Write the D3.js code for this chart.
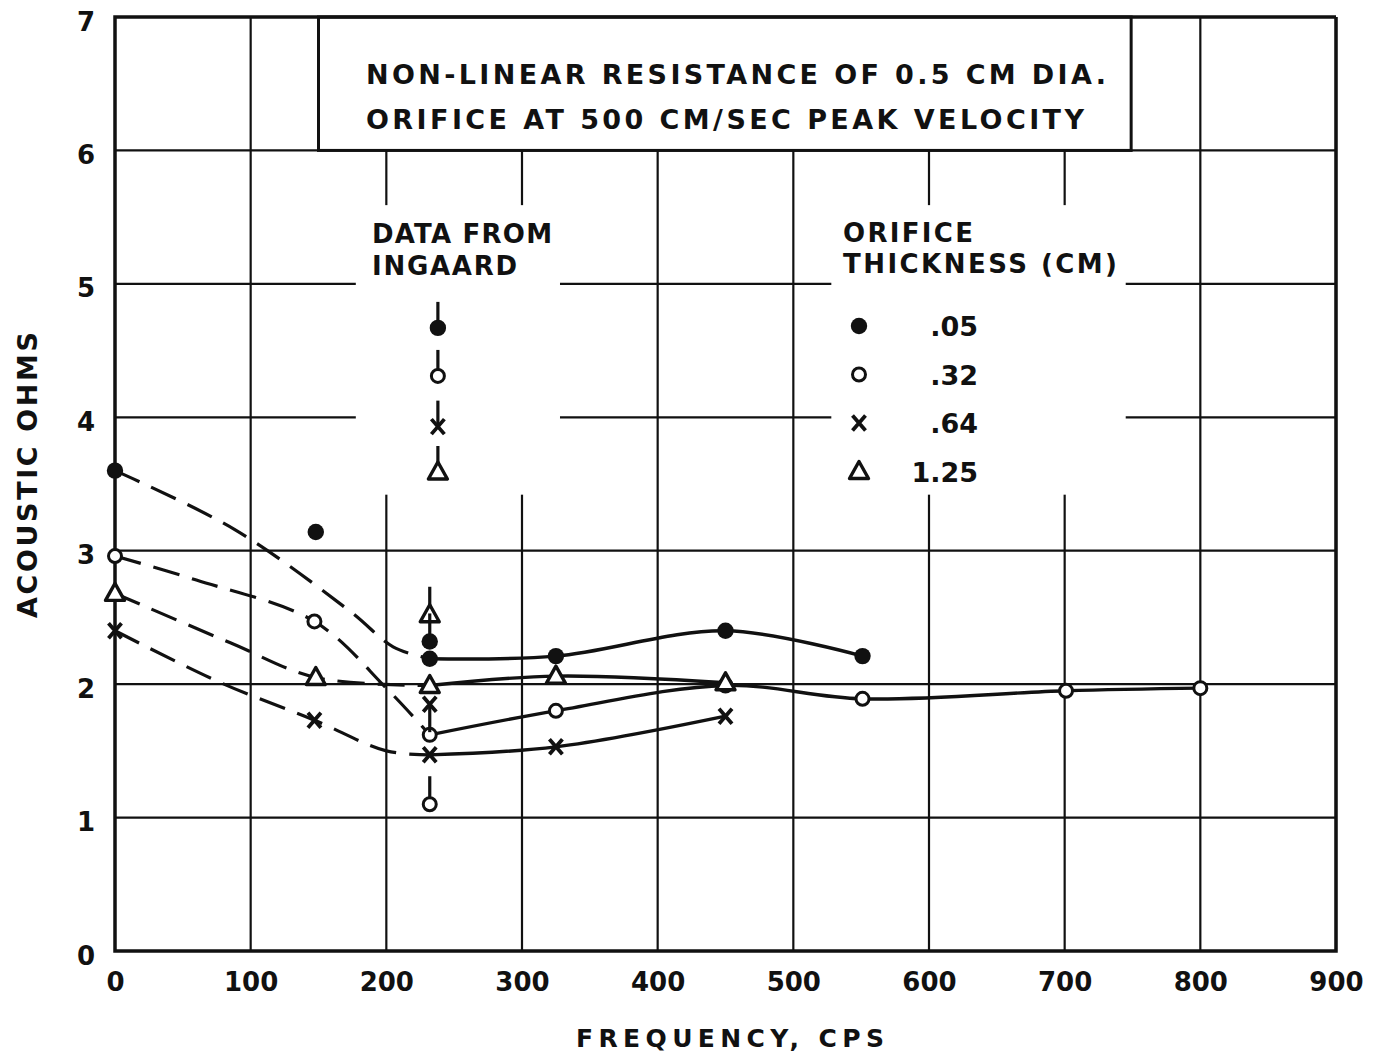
<!DOCTYPE html>
<html>
<head>
<meta charset="utf-8">
<script src="https://cdn.jsdelivr.net/npm/d3@7"></script>
<style>
  body { margin: 0; background: #fff; }
  text { font-family: "DejaVu Sans", sans-serif; font-weight: bold; fill: #111; }
</style>
</head>
<body>
<div id="chart"></div>
<script>
// tick values of the two axes
var xTicks = [0, 100, 200, 300, 400, 500, 600, 700, 800, 900];
var yTicks = [0, 1, 2, 3, 4, 5, 6, 7];

// legend: orifice thickness (cm), one symbol per series
var seriesKeys = ["filled", "open", "cross", "triangle"];
var thicknessLabels = [".05", ".32", ".64", "1.25"];

// measured points (frequency cps, acoustic ohms)
var filledPoints = [[0, 3.6], [148, 3.14], [232, 2.19], [325, 2.21], [450, 2.40], [551, 2.21]];
var openPoints = [[0, 2.96], [147, 2.47], [232, 1.62], [325, 1.80], [450, 1.99], [551, 1.89], [701, 1.95], [800, 1.97]];
var crossPoints = [[0, 2.40], [147, 1.73], [232, 1.47], [325, 1.53], [450, 1.76]];
var trianglePoints = [[0, 2.68], [148, 2.05], [232, 1.99], [325, 2.06], [450, 2.01]];

// hand drawn curves: dashed below ~230 cps, solid above
var filledDashed = [[0, 3.6], [88, 3.16], [174, 2.54], [205, 2.28], [232, 2.19]];
var filledSolid = [[232, 2.19], [325, 2.21], [450, 2.40], [551, 2.21]];
var openDashed = [[0, 2.96], [60, 2.78], [147, 2.47], [200, 1.97], [232, 1.62]];
var openSolid = [[232, 1.62], [325, 1.80], [450, 1.99], [551, 1.89], [701, 1.95], [800, 1.97]];
var crossDashed = [[0, 2.40], [78, 2.01], [147, 1.73], [200, 1.50], [232, 1.47]];
var crossSolid = [[232, 1.47], [325, 1.53], [450, 1.76]];
var triangleDashed = [[0, 2.68], [85, 2.31], [148, 2.05], [232, 1.99]];
var triangleSolid = [[232, 1.99], [325, 2.06], [450, 2.01]];

// points with a tick mark (dir -1 = tick above, 1 = tick below)
var barredKeys = ["triangle", "filled", "cross", "open"];
var barredX = [232, 232, 232, 232];
var barredY = [2.52, 2.32, 1.85, 1.10];
var barredDir = [-1, -1, 1, -1];

// "data from Ingaard"
var ingaardX = 238;
var ingaardValues = [4.67, 4.31, 3.93, 3.59]; // filled, open, cross, triangle

var W = 1374, H = 1061;
var x = d3.scaleLinear().domain([0, 900]).range([115, 1336]);
var y = d3.scaleLinear().domain([0, 7]).range([951, 17]);

var svg = d3.select("#chart").append("svg")
    .attr("width", W)
    .attr("height", H);

// grid
svg.append("g").selectAll("line.v")
    .data(xTicks.slice(1))
    .enter().append("line")
    .attr("x1", function (d) { return x(d); })
    .attr("x2", function (d) { return x(d); })
    .attr("y1", y(0)).attr("y2", y(7))
    .attr("stroke", "#111").attr("stroke-width", 2.2);

svg.append("g").selectAll("line.h")
    .data(yTicks.slice(1, 7))
    .enter().append("line")
    .attr("x1", x(0)).attr("x2", x(900))
    .attr("y1", function (d) { return y(d); })
    .attr("y2", function (d) { return y(d); })
    .attr("stroke", "#111").attr("stroke-width", 2.2);

// blank areas behind the two text blocks
var gaps = [[177.5, 328, 3.42, 5.59], [528, 745, 3.42, 5.59]];
svg.append("g").selectAll("rect")
    .data(gaps)
    .enter().append("rect")
    .attr("x", function (d) { return x(d[0]); })
    .attr("width", function (d) { return x(d[1]) - x(d[0]); })
    .attr("y", function (d) { return y(d[3]); })
    .attr("height", function (d) { return y(d[2]) - y(d[3]); })
    .attr("fill", "#fff");

// title box
svg.append("rect")
    .attr("x", x(150)).attr("y", y(7))
    .attr("width", x(749) - x(150)).attr("height", y(6) - y(7))
    .attr("fill", "#fff").attr("stroke", "#111").attr("stroke-width", 3);

// frame
svg.append("path")
    .attr("d", "M" + x(900) + "," + y(7) + "H" + x(0) + "V" + y(0) + "H" + x(900) + "V" + y(7))
    .attr("fill", "none").attr("stroke", "#111").attr("stroke-width", 3.5);

// axes labels
var yAxis = svg.append("g")
    .attr("transform", "translate(" + x(0) + ",0)")
    .call(d3.axisLeft(y).tickValues(yTicks).tickSize(0).tickPadding(20).tickFormat(d3.format("d")));
yAxis.select(".domain").remove();
yAxis.selectAll("text").attr("font-size", 26).attr("dy", "0.5em")
    .attr("font-family", "DejaVu Sans").attr("font-weight", "bold").attr("fill", "#111");

var xAxis = svg.append("g")
    .attr("transform", "translate(0," + y(0) + ")")
    .call(d3.axisBottom(x).tickValues(xTicks).tickSize(0).tickPadding(22).tickFormat(d3.format("d")));
xAxis.select(".domain").remove();
xAxis.selectAll("text").attr("font-size", 26)
    .attr("font-family", "DejaVu Sans").attr("font-weight", "bold").attr("fill", "#111");

svg.append("text")
    .attr("x", 576).attr("y", 1047)
    .attr("font-size", 25).attr("textLength", 308).attr("lengthAdjust", "spacing")
    .text("FREQUENCY, CPS");

svg.append("text")
    .attr("transform", "translate(37,475) rotate(-90)")
    .attr("text-anchor", "middle")
    .attr("font-size", 27).attr("textLength", 286).attr("lengthAdjust", "spacing")
    .text("ACOUSTIC OHMS");

// title
svg.append("text")
    .attr("x", 366).attr("y", 84)
    .attr("font-size", 27).attr("textLength", 740).attr("lengthAdjust", "spacing")
    .text("NON-LINEAR RESISTANCE OF 0.5 CM DIA.");
svg.append("text")
    .attr("x", 366).attr("y", 129)
    .attr("font-size", 27).attr("textLength", 718).attr("lengthAdjust", "spacing")
    .text("ORIFICE AT 500 CM/SEC PEAK VELOCITY");

// curves
var line = d3.line()
    .x(function (d) { return x(d[0]); })
    .y(function (d) { return y(d[1]); })
    .curve(d3.curveCatmullRom.alpha(0.5));

[filledDashed, openDashed, crossDashed, triangleDashed].forEach(function (c) {
    svg.append("path").attr("d", line(c))
        .attr("fill", "none").attr("stroke", "#111").attr("stroke-width", 3.2)
        .attr("stroke-dasharray", "27,13");
});
[filledSolid, openSolid, crossSolid, triangleSolid].forEach(function (c) {
    svg.append("path").attr("d", line(c))
        .attr("fill", "none").attr("stroke", "#111").attr("stroke-width", 3.4);
});

// symbols
function drawSymbol(g, key, cx, cy) {
    if (key === "filled") {
        g.append("circle").attr("cx", cx).attr("cy", cy).attr("r", 8.2).attr("fill", "#111");
    } else if (key === "open") {
        g.append("circle").attr("cx", cx).attr("cy", cy).attr("r", 6.5)
            .attr("fill", "#fff").attr("stroke", "#111").attr("stroke-width", 3);
    } else if (key === "cross") {
        g.append("path")
            .attr("d", "M" + (cx - 6.5) + "," + (cy - 7.5) + "L" + (cx + 6.5) + "," + (cy + 7.5) +
                "M" + (cx + 6.5) + "," + (cy - 7.5) + "L" + (cx - 6.5) + "," + (cy + 7.5))
            .attr("stroke", "#111").attr("stroke-width", 3.8).attr("fill", "none");
    } else {
        g.append("path")
            .attr("d", "M" + cx + "," + (cy - 10) + "L" + (cx + 9.5) + "," + (cy + 7) + "L" + (cx - 9.5) + "," + (cy + 7) + "Z")
            .attr("fill", "#fff").attr("stroke", "#111").attr("stroke-width", 3.4).attr("stroke-linejoin", "round");
    }
}

var marks = svg.append("g");
var allPoints = [filledPoints, openPoints, crossPoints, trianglePoints];
allPoints.forEach(function (pts, i) {
    pts.forEach(function (p) { drawSymbol(marks, seriesKeys[i], x(p[0]), y(p[1])); });
});

// ticked points
barredKeys.forEach(function (k, i) {
    var cx = x(barredX[i]), cy = y(barredY[i]);
    marks.append("line")
        .attr("x1", cx).attr("x2", cx)
        .attr("y1", cy).attr("y2", cy + barredDir[i] * 28)
        .attr("stroke", "#111").attr("stroke-width", 3.2);
    drawSymbol(marks, k, cx, cy);
});

ingaardValues.forEach(function (v, i) {
    var cx = x(ingaardX), cy = y(v);
    marks.append("line")
        .attr("x1", cx).attr("x2", cx)
        .attr("y1", cy).attr("y2", cy - 26)
        .attr("stroke", "#111").attr("stroke-width", 3.2);
    drawSymbol(marks, seriesKeys[i], cx, cy);
});

// text blocks
svg.append("text").attr("x", 372).attr("y", 243)
    .attr("font-size", 26).attr("textLength", 180).attr("lengthAdjust", "spacing")
    .text("DATA FROM");
svg.append("text").attr("x", 372).attr("y", 275)
    .attr("font-size", 26).attr("textLength", 145).attr("lengthAdjust", "spacing")
    .text("INGAARD");
svg.append("text").attr("x", 843).attr("y", 242)
    .attr("font-size", 26).attr("textLength", 130).attr("lengthAdjust", "spacing")
    .text("ORIFICE");
svg.append("text").attr("x", 843).attr("y", 273)
    .attr("font-size", 26).attr("textLength", 274).attr("lengthAdjust", "spacing")
    .text("THICKNESS (CM)");

// legend
var legend = svg.append("g");
thicknessLabels.forEach(function (lab, i) {
    var ly = 326 + i * 48.5;
    drawSymbol(legend, seriesKeys[i], 859, ly);
    legend.append("text")
        .attr("x", 978).attr("y", ly + 10)
        .attr("text-anchor", "end")
        .attr("font-size", 27)
        .text(lab);
});
</script>
</body>
</html>
